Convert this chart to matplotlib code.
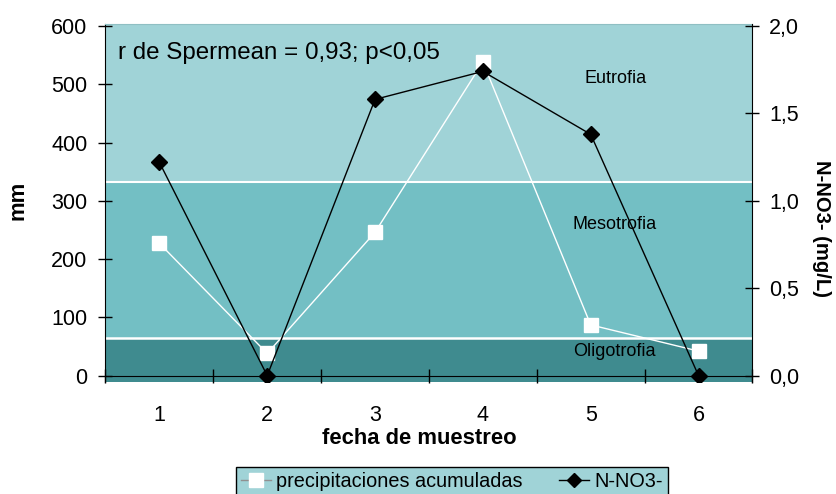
import matplotlib
matplotlib.use("Agg")
import matplotlib.pyplot as plt
from matplotlib.lines import Line2D

plt.rcParams['font.family'] = ['Liberation Sans', 'DejaVu Sans']

# datos
muestreo = [1, 2, 3, 4, 5, 6]
precipitaciones = [227, 38, 246, 538, 87, 42]   # mm
n_no3 = [1.22, 0.0, 1.58, 1.74, 1.38, 0.0]       # mg/L

# limites de las zonas troficas (en mm del eje izquierdo)
zonas = ['Oligotrofia', 'Mesotrofia', 'Eutrofia']
limites = [-11, 65, 333, 603]
colores_zona = ['#3f8b8f', '#73bfc4', '#a0d3d7']

mm_ticks = [0, 100, 200, 300, 400, 500, 600]
no3_ticks = [0.0, 0.5, 1.0, 1.5, 2.0]
no3_labels = ['0,0', '0,5', '1,0', '1,5', '2,0']

fig = plt.figure(figsize=(8.37, 4.94), dpi=100)
ax = fig.add_axes([0.126, 0.2267, 0.773, 0.7243])

# fondo con las zonas
for i in range(3):
    ax.axhspan(limites[i], limites[i + 1], color=colores_zona[i], lw=0, zorder=0)
ax.axhline(limites[1], color='white', lw=1.8, zorder=1)
ax.axhline(limites[2], color='white', lw=1.5, zorder=1)

ax.plot(muestreo, precipitaciones, color='white', lw=1, marker='s',
        markersize=9.5, mfc='white', mec='white', zorder=3)

ax.set_xlim(0.5, 6.5)
ax.set_ylim(limites[0], limites[-1])
ax.set_yticks(mm_ticks)
ax.set_xticks(muestreo)
ax.set_xticks([0.5, 1.5, 2.5, 3.5, 4.5, 5.5, 6.5], minor=True)
ax.tick_params(axis='x', which='major', length=0, pad=21, labelsize=15.5)
ax.tick_params(axis='x', which='minor', direction='inout', length=10, width=1)
ax.tick_params(axis='y', direction='inout', length=10, width=1, pad=8, labelsize=15.5)

ax.spines['bottom'].set_position(('data', 0))
ax.spines['bottom'].set_zorder(2)
ax.spines['top'].set_color('#8fbfc3')
ax.spines['right'].set_visible(False)

# eje derecho
ax2 = ax.twinx()
ax2.plot(muestreo, n_no3, color='black', lw=1, marker='D', markersize=8.5,
         mfc='black', mec='black', zorder=4)
ax2.set_ylim(limites[0] / 300, limites[-1] / 300)
ax2.set_yticks(no3_ticks)
ax2.set_yticklabels(no3_labels)
ax2.tick_params(axis='y', direction='inout', length=10, width=1, pad=7, labelsize=15.5)
for s in ['top', 'left', 'bottom']:
    ax2.spines[s].set_visible(False)

# textos
ax.text(0.019, 0.919, 'r de Spermean = 0,93; p<0,05', transform=ax.transAxes,
        fontsize=17.4, va='center', ha='left')
ax.text(5.23, 509, zonas[2], fontsize=13, ha='center', va='center')
ax.text(5.22, 260, zonas[1], fontsize=13, ha='center', va='center')
ax.text(5.22, 42, zonas[0], fontsize=13, ha='center', va='center')

fig.text(0.501, 0.113, 'fecha de muestreo', fontsize=15.8, fontweight='bold',
         ha='center', va='center')
fig.text(0.022, 0.595, 'mm', fontsize=15.8, fontweight='bold', rotation=90,
         ha='center', va='center')
fig.text(0.981, 0.538, 'N-NO3- (mg/L)', fontsize=14.6, fontweight='bold',
         rotation=-90, ha='center', va='center')

# leyenda
handles = [Line2D([], [], color='#909090', lw=1, marker='s', markersize=9.5,
                  mfc='white', mec='white'),
           Line2D([], [], color='black', lw=1, marker='D', markersize=7,
                  mfc='black', mec='black')]
leg = fig.legend(handles, ['precipitaciones acumuladas', 'N-NO3-'],
                 loc='upper center', bbox_to_anchor=(0.54, 0.0553), ncol=2,
                 fontsize=14.3, frameon=True, fancybox=False, framealpha=1,
                 facecolor=colores_zona[2], edgecolor='black',
                 handlelength=1.5, handletextpad=0.25, columnspacing=1.85,
                 borderpad=0.25, borderaxespad=0)
leg.get_frame().set_linewidth(1)

fig.savefig('out.png', dpi=100)
